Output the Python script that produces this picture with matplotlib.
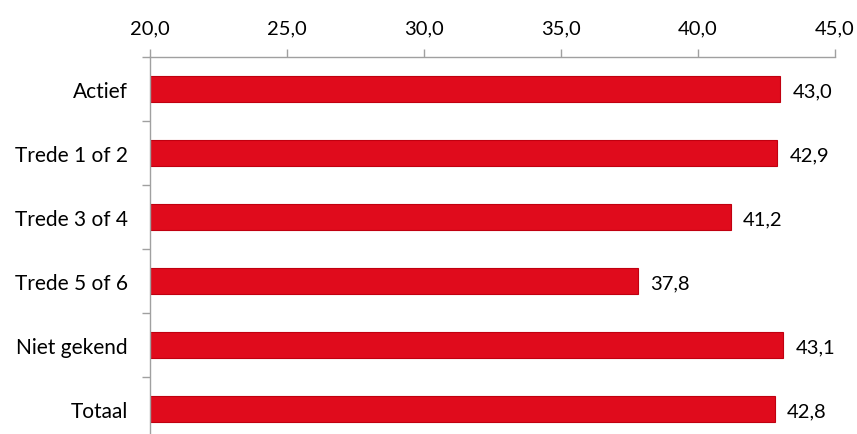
import matplotlib.pyplot as plt
import numpy as np
from matplotlib.ticker import FixedLocator, FuncFormatter

plt.rcParams['font.family'] = ['Lato', 'DejaVu Sans']

# data
categories = ['Actief', 'Trede 1 of 2', 'Trede 3 of 4', 'Trede 5 of 6', 'Niet gekend', 'Totaal']
values = [43.0, 42.9, 41.2, 37.8, 43.1, 42.8]
xticks = [20, 25, 30, 35, 40, 45]

fig = plt.figure(figsize=(8.57, 4.35), dpi=100)
ax = fig.add_axes([150 / 857, -7 / 435, 685 / 857, 384 / 435])

y = np.arange(len(categories))
ax.barh(y, [v - 20 for v in values], left=20, height=0.42,
        color='#E00B1C', edgecolor='#C00010', linewidth=0.8)

for yi, v in zip(y, values):
    ax.text(v + 0.45, yi + 0.03, f'{v:.1f}'.replace('.', ','), va='center', ha='left',
            fontsize=14.5, color='black')

ax.set_xlim(20, 45)
ax.set_ylim(len(categories) - 0.5, -0.5)

ax.xaxis.tick_top()
ax.set_xticks(xticks)
ax.xaxis.set_major_formatter(FuncFormatter(lambda v, p: f'{v:.1f}'.replace('.', ',')))
ax.tick_params(axis='x', direction='out', length=6, width=1, color='#A0A0A0',
               labelsize=14.5, pad=9)

ax.set_yticks(y)
ax.set_yticklabels(categories, fontsize=15)
ax.yaxis.set_minor_locator(FixedLocator(np.arange(-0.5, len(categories) + 0.5, 1)))
ax.tick_params(axis='y', which='major', length=0, pad=16)
ax.tick_params(axis='y', which='minor', length=6, width=1, color='#A0A0A0')

for side in ['right', 'bottom']:
    ax.spines[side].set_visible(False)
for side in ['top', 'left']:
    ax.spines[side].set_color('#A0A0A0')
    ax.spines[side].set_linewidth(1)

fig.savefig('out.png', dpi=100)
